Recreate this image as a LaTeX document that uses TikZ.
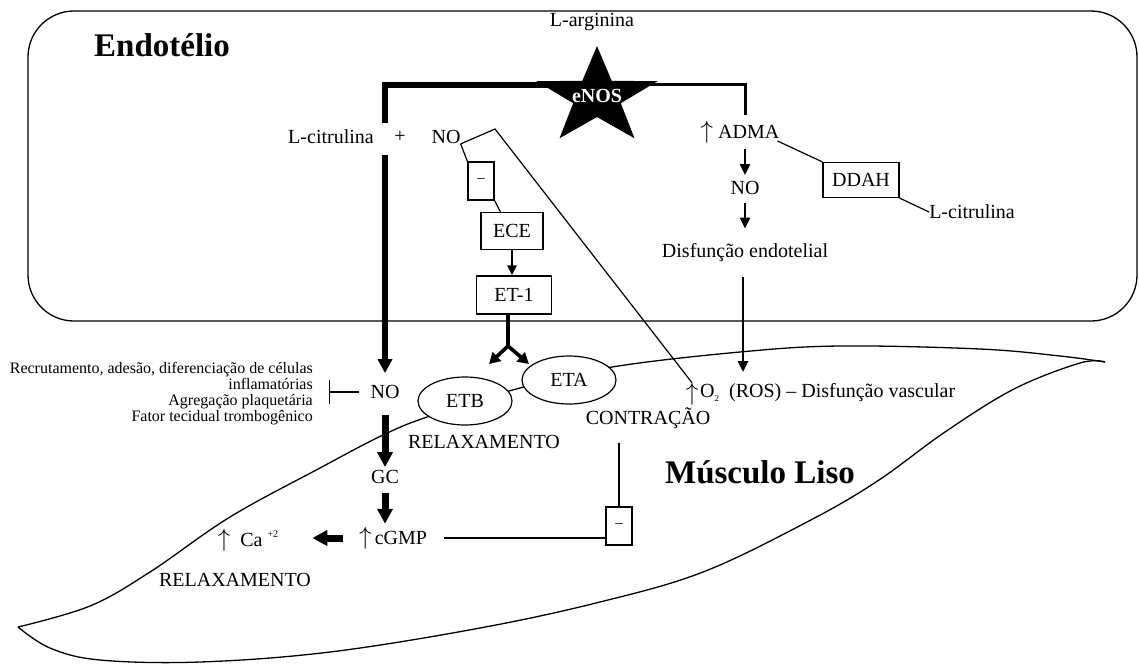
\documentclass[tikz,border=0pt]{standalone}
\usepackage{fontspec}
\setmainfont{Liberation Serif}
\usetikzlibrary{arrows.meta,shapes.geometric,calc}
\newcommand{\upar}{{\fontsize{25}{25}\selectfont$\uparrow$}}
\begin{document}
\begin{tikzpicture}[x=1pt,y=-1pt,
  every node/.style={font=\fontsize{20}{24}\selectfont, inner sep=0pt},
  thinline/.style={line width=1.2pt},
  outline/.style={line width=1.3pt},
  boxnode/.style={draw, line width=1.2pt},
  minusbox/.style={draw, line width=1.2pt, minimum width=26pt, minimum height=38pt, font=\fontsize{15}{15}\selectfont},
  ellnode/.style={draw, ellipse, line width=1.2pt, fill=white, minimum width=94pt, minimum height=48pt},
  medarrow/.style={line width=2.6pt, -{Triangle[length=11pt,width=10pt]}},
  bigarrow/.style={line width=7pt, -{Triangle[length=15pt,width=15pt]}},
  leftbar/.style={line width=5.5pt},
  titlefont/.style={font=\bfseries\fontsize{33}{36}\selectfont}
]
\useasboundingbox (0,0) rectangle (1139,664);

% endothelium
\draw[outline, rounded corners=46pt] (28,11) rectangle (1137,321);

% smooth muscle outline
\draw[outline] plot[smooth, tension=0.6] coordinates {(18,627) (90,606) (150,572) (230,517) (320,468) (383,435) (430,416) (520,388) (612,367) (740,352) (840,346) (980,349) (1060,356) (1105,362)};
\draw[outline] plot[smooth, tension=0.6] coordinates {(1105,362) (1080,363) (1014,389) (945,432) (876,482) (807,522) (703,572) (600,602) (480,628) (330,652) (200,662) (100,660) (50,648) (18,627)};

% titles
\node[titlefont] (endo) at (162,45) {Endotélio};
\node[titlefont] (musc) at (760,472) {Músculo Liso};

% top
\node (larg) at (592,22) {L-arginina};
\coordinate (topL) at (385,123);
\coordinate (midL) at (385,155);
\coordinate (topR) at (745,115);
\draw[leftbar] (570,85) -| (topL);
\draw[line width=3pt] (620,84) -| (topR);
\fill (597,46) -- (611.7,80.8) -- (657.6,81.2) -- (620.8,103.2) -- (634.5,138.3) -- (597,117) -- (559.5,138.3) -- (573.2,103.2) -- (536.4,81.2) -- (582.3,80.8) -- cycle;
\node[text=white, font=\bfseries\fontsize{20}{24}\selectfont] (enos) at (597,96) {eNOS};

\node (lcit1) at (331,137) {L-citrulina};
\node (plus) at (400,137) {+};
\node (no1) at (446,137) {NO};

% ADMA branch
\node (adma) at (740,132) {\upar\ ADMA};
\node (no2) at (745,188) {NO};
\node (disf) at (745,253) {Disfunção endotelial};
\node[boxnode, minimum width=76pt, minimum height=35pt] (ddah) at (861,180) {DDAH};
\node (lcit2) at (972,212) {L-citrulina};
\draw[medarrow, shorten <=6pt, shorten >=6pt] (topR |- adma.south) -- (topR |- no2.north);
\draw[medarrow, shorten <=8pt, shorten >=15pt] (no2.south) -- (no2.south |- disf.north);
\draw[thinline] ($(adma.east)+(-2,9)$) -- (ddah.north west);
\draw[thinline] (ddah.south east) -- (lcit2.west);
\coordinate (disfA) at (743,277);
\coordinate (disfB) at (743,372);
\draw[medarrow] (disfA) -- (disfB);

% ET branch
\node[minusbox] (minus1) at (481,181) {–};
\node[boxnode, minimum width=62pt, minimum height=37pt] (ece) at (512,231) {ECE};
\node[boxnode, minimum width=75pt, minimum height=38pt] (et1) at (514,295) {ET-1};
\coordinate (bend) at (495,129);
\draw[thinline] (no1.south east) -- (minus1.north west);
\draw[thinline] (minus1.south east) -- ($(ece.north west)+(20,0)$);
\draw[line width=2.4pt, -{Triangle[length=10pt,width=9pt]}] (ece.south) -- (ece.south |- et1.north);
\coordinate (split) at (508,346);
\coordinate (tipB) at (489,364);
\coordinate (tipA) at (529,364);
\draw[line width=3.6pt] (et1.south -| split) -- (split);
\draw[line width=3.6pt, -{Triangle[length=11pt,width=12pt]}] (split) -- (tipB);
\draw[line width=3.6pt, -{Triangle[length=11pt,width=12pt]}] (split) -- (tipA);
\node[ellnode] (etb) at (465,401) {ETB};
\node[ellnode] (eta) at (569,380) {ETA};

% NO in muscle
\node (no3) at (385,392) {NO};
\draw[bigarrow, line width=5.5pt, -{Triangle[length=14pt,width=14pt]}, shorten >=12pt] (midL) -- (no3.north);
\node[anchor=east, align=right, font=\fontsize{16}{16}\selectfont] (inflam) at (313,394)
  {Recrutamento, adesão, diferenciação de células\\inflamatórias\\Agregação plaquetária\\Fator tecidual trombogênico};
\draw[thinline, -{Bar[width=24pt]}, shorten >=16pt, shorten <=11pt] (no3.west) -- (inflam.east |- no3.west);

\node (uparr) at (692,394) {\upar};
\node[anchor=west] (o2) at (700,393) {O\raisebox{-4pt}{\fontsize{9}{9}\selectfont 2}\ \ (ROS) – Disfunção vascular};
\draw[thinline] (no1.south east) -- (bend) -- (uparr.north);

\node (relax1) at (484,442) {RELAXAMENTO};
\node (contr) at (648,418) {CONTRAÇÃO};
\node (gc) at (385,477) {GC};
\node (cgmp) at (393,538) {\upar\,cGMP};
\node (ca) at (248,540) {\upar\ \ Ca \raisebox{9pt}{\fontsize{10}{10}\selectfont +2}};
\node (relax2) at (235,580) {RELAXAMENTO};
\node[minusbox] (minus2) at (619,526) {–};

\draw[bigarrow, shorten <=16pt, shorten >=3pt] (no3.south) -- (no3.south |- gc.north);
\draw[bigarrow, shorten <=9pt, shorten >=3pt] (gc.south) -- (gc.south |- cgmp.north);
\draw[bigarrow, shorten <=16pt, shorten >=34pt] (cgmp.west) -- (cgmp.west -| ca.east);
\draw[thinline, shorten <=17pt] (cgmp.east) -- (cgmp.east -| minus2.west);
\draw[thinline, shorten <=14pt] (minus2.north |- contr.south) -- (minus2.north);
\end{tikzpicture}
\end{document}
